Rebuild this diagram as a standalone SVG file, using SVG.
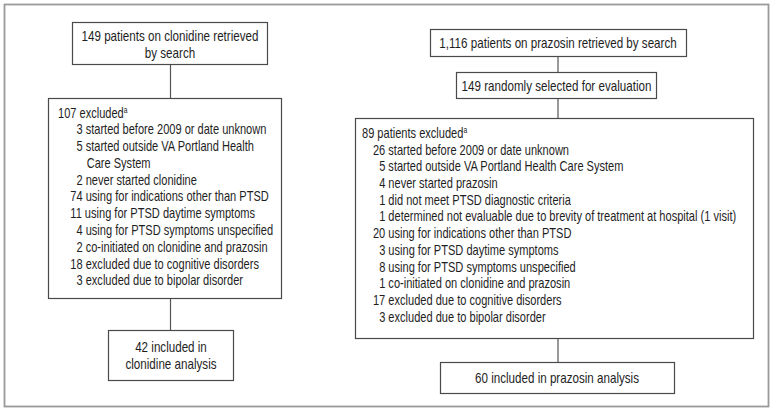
<svg xmlns="http://www.w3.org/2000/svg" width="774" height="412" viewBox="0 0 774 412">
<style>
.frame{fill:none;stroke:#9a9a9a;stroke-width:1.8}
.box{fill:#fff;stroke:#4a4a4a;stroke-width:1.2}
.conn{stroke:#555;stroke-width:1.2;fill:none}
text{font-family:"Liberation Sans",Arial,sans-serif;font-size:14px;fill:#1e1e1e}
.c{text-anchor:middle}
.sup{font-size:8.5px}
</style>
<rect class="frame" x="4.5" y="4.5" width="764" height="402"/>
<g id="connectors">
<line class="conn" x1="170.5" y1="64" x2="170.5" y2="98"/>
<line class="conn" x1="170.5" y1="298" x2="170.5" y2="330"/>
<line class="conn" x1="558" y1="56" x2="558" y2="72"/>
<line class="conn" x1="558" y1="98" x2="558" y2="118"/>
<line class="conn" x1="558" y1="338" x2="558" y2="362"/>
</g>
<g id="clonidine-search">
<rect class="box" x="72.5" y="22.5" width="195" height="42"/>
<text class="c" transform="translate(170,41) scale(0.83,1)"><tspan x="0" y="0">149 patients on clonidine retrieved</tspan><tspan x="0" y="17">by search</tspan></text>
</g>
<g id="clonidine-excluded">
<rect class="box" x="48.5" y="98.5" width="233" height="200"/>
<text transform="translate(58,117.5) scale(0.79,1)">
<tspan x="0" y="0">107 excluded<tspan class="sup" dy="-5">a</tspan></tspan>
<tspan x="23.4" y="16.8">3 started before 2009 or date unknown</tspan>
<tspan x="23.4" y="33.6">5 started outside VA Portland Health</tspan>
<tspan x="36.3" y="50.4">Care System</tspan>
<tspan x="23.4" y="67.2">2 never started clonidine</tspan>
<tspan x="15.6" y="84">74 using for indications other than PTSD</tspan>
<tspan x="15.6" y="100.8">11 using for PTSD daytime symptoms</tspan>
<tspan x="23.4" y="117.6">4 using for PTSD symptoms unspecified</tspan>
<tspan x="23.4" y="134.4">2 co-initiated on clonidine and prazosin</tspan>
<tspan x="15.6" y="151.2">18 excluded due to cognitive  disorders</tspan>
<tspan x="23.4" y="168">3 excluded due to bipolar disorder</tspan>
</text>
</g>
<g id="clonidine-included">
<rect class="box" x="108.5" y="330.5" width="125" height="50"/>
<text class="c" transform="translate(171,352) scale(0.83,1)"><tspan x="0" y="0">42 included in</tspan><tspan x="0" y="17.5">clonidine analysis</tspan></text>
</g>
<g id="prazosin-search">
<rect class="box" x="430.5" y="29.5" width="256" height="27"/>
<text class="c" transform="translate(558,48) scale(0.83,1)">1,116 patients on prazosin retrieved by search</text>
</g>
<g id="prazosin-selected">
<rect class="box" x="456.5" y="72.5" width="200" height="26"/>
<text class="c" transform="translate(556.5,91) scale(0.83,1)">149 randomly selected for evaluation</text>
</g>
<g id="prazosin-excluded">
<rect class="box" x="355.5" y="118.5" width="398" height="220"/>
<text transform="translate(362,138) scale(0.79,1)">
<tspan x="0" y="0">89 patients excluded<tspan class="sup" dy="-5">a</tspan></tspan>
<tspan x="13.9" y="16.7">26 started before 2009 or date unknown</tspan>
<tspan x="21.7" y="33.4">5 started outside VA Portland Health Care System</tspan>
<tspan x="21.7" y="50.1">4 never started prazosin</tspan>
<tspan x="21.7" y="66.8">1 did not meet PTSD diagnostic criteria</tspan>
<tspan x="21.7" y="83.5">1 determined not evaluable due to brevity of treatment at hospital (1 visit)</tspan>
<tspan x="13.9" y="100.2">20 using for indications other than PTSD</tspan>
<tspan x="21.7" y="116.9">3 using for PTSD daytime symptoms</tspan>
<tspan x="21.7" y="133.6">8 using for PTSD symptoms unspecified</tspan>
<tspan x="21.7" y="150.3">1 co-initiated on clonidine and prazosin</tspan>
<tspan x="13.9" y="167">17 excluded due to cognitive disorders</tspan>
<tspan x="21.7" y="183.7">3 excluded due to bipolar disorder</tspan>
</text>
</g>
<g id="prazosin-included">
<rect class="box" x="440.5" y="362.5" width="234" height="31"/>
<text class="c" transform="translate(557,383) scale(0.83,1)">60 included in prazosin analysis</text>
</g>
</svg>
